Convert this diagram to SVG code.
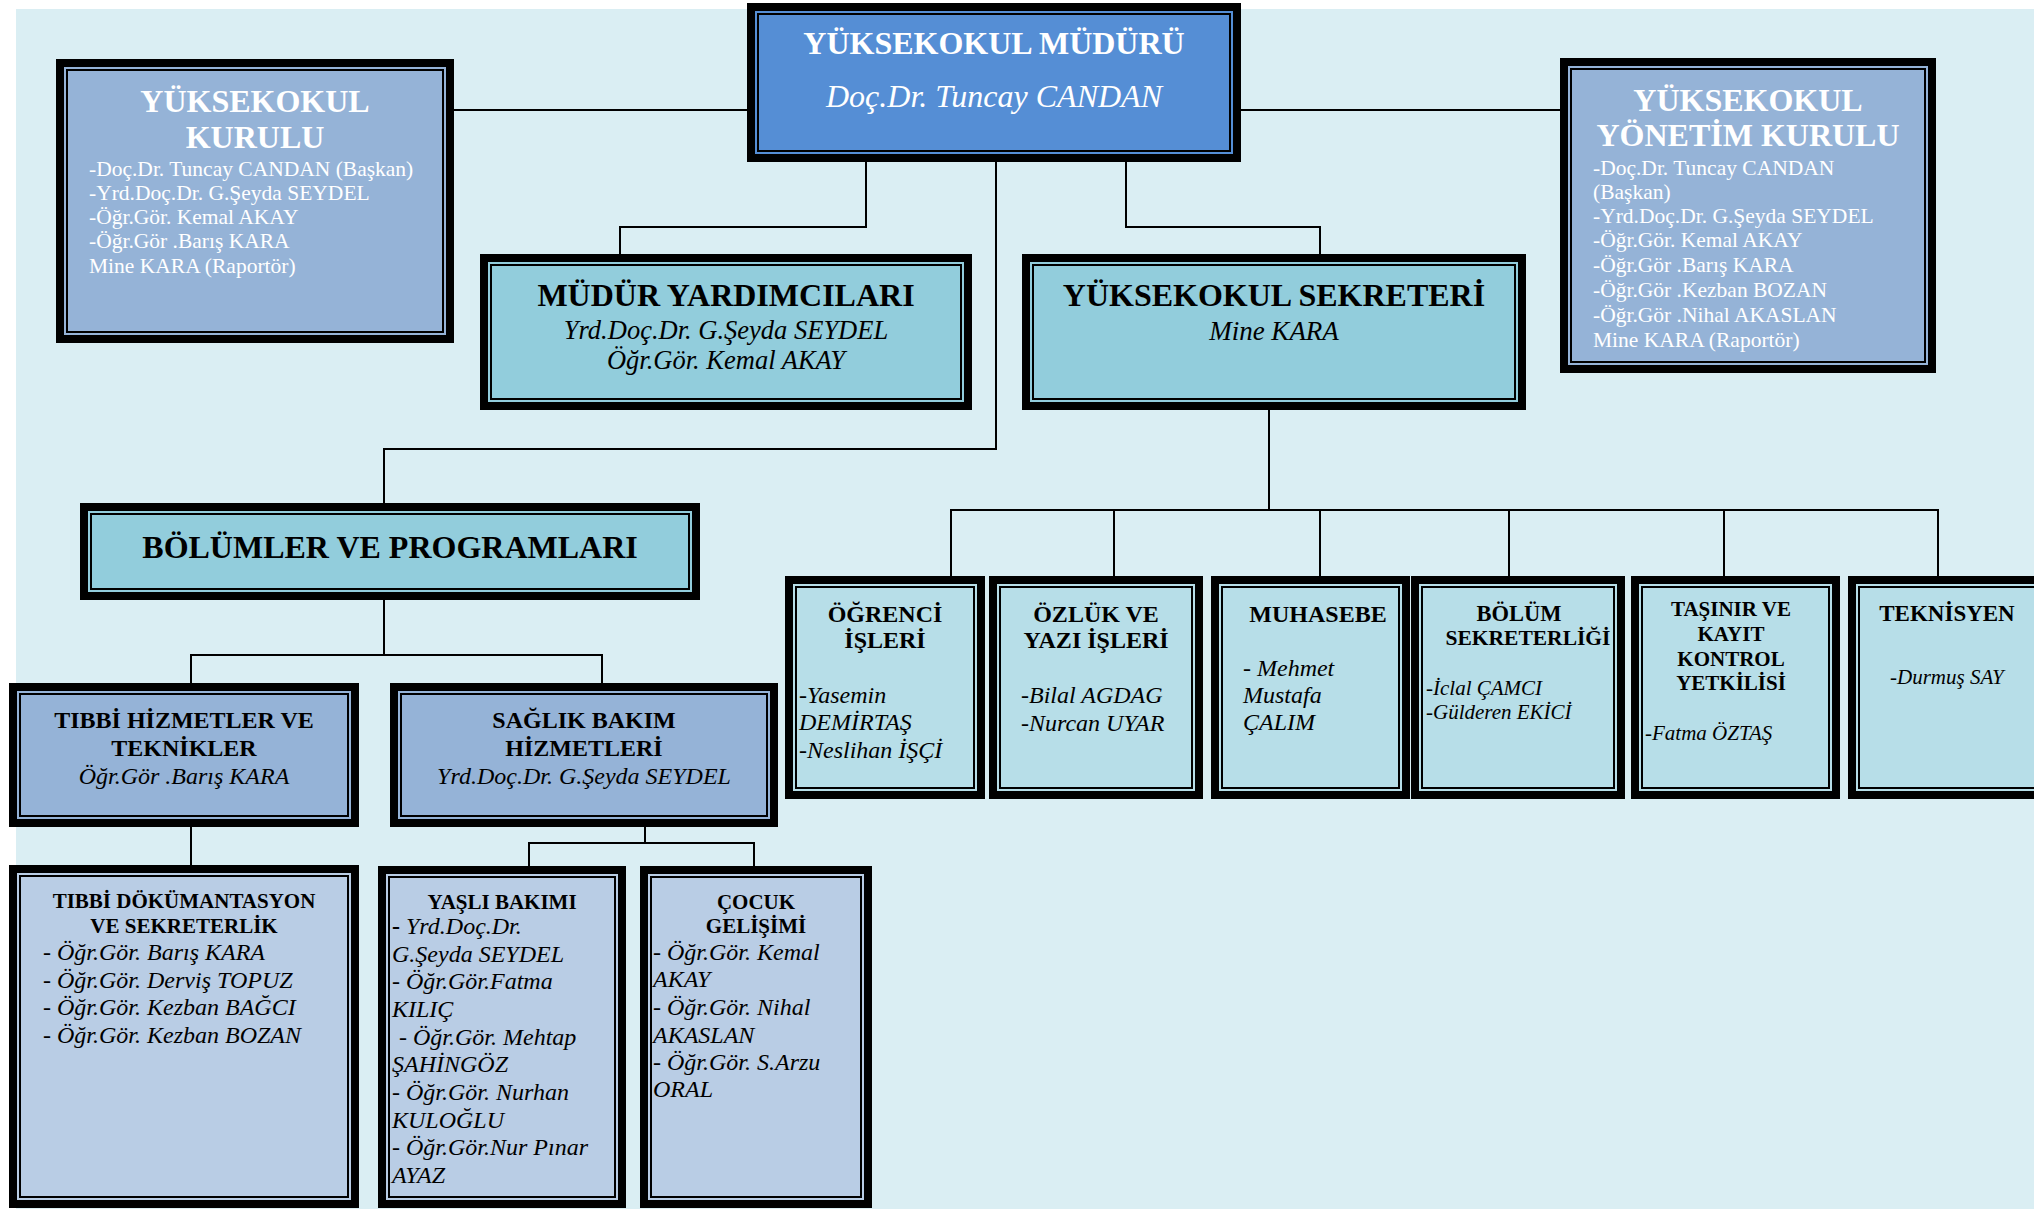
<svg xmlns="http://www.w3.org/2000/svg" width="2034" height="1209" viewBox="0 0 2034 1209">
<style>
.o{stroke:#000;stroke-width:8}
.i{fill:none;stroke:#000;stroke-width:2}
text{font-family:"Liberation Serif","Times New Roman",serif;fill:#000}
.w{fill:#fff}
.b{font-weight:bold}
.it{font-style:italic}
.c{text-anchor:middle}
.conn path{fill:none;stroke:#000;stroke-width:2}
</style>
<rect x="0" y="0" width="2034" height="1209" fill="#fff"/>
<rect x="16" y="9" width="2018" height="1200" fill="#DAEEF3"/>
<g class="conn">
<path d="M454 110 H747"/>
<path d="M1241 110 H1560"/>
<path d="M866 162 V227 H620 V254"/>
<path d="M996 162 V449 H384 V503"/>
<path d="M1126 162 V227 H1320 V254"/>
<path d="M1269 410 V510"/>
<path d="M951 576 V510 H1938 V576"/>
<path d="M1114 510 V576"/>
<path d="M1320 510 V576"/>
<path d="M1509 510 V576"/>
<path d="M1724 510 V576"/>
<path d="M384 600 V655"/>
<path d="M191 683 V655 H602 V683"/>
<path d="M191 827 V865"/>
<path d="M645 827 V843"/>
<path d="M529 866 V843 H754 V866"/>
</g>
<g id="yuksekokul-kurulu">
<rect class="o" x="60" y="63" width="390" height="276" fill="#95B3D7"/>
<rect class="i" x="67" y="70" width="376" height="262"/>
<text class="w b c" x="255" y="112" font-size="32">YÜKSEKOKUL</text>
<text class="w b c" x="255" y="148" font-size="32">KURULU</text>
<g font-size="21.5">
<text class="w" x="89" y="176">-Doç.Dr. Tuncay CANDAN (Başkan)</text>
<text class="w" x="89" y="200">-Yrd.Doç.Dr. G.Şeyda SEYDEL</text>
<text class="w" x="89" y="224">-Öğr.Gör. Kemal AKAY</text>
<text class="w" x="89" y="248">-Öğr.Gör .Barış KARA</text>
<text class="w" x="89" y="273">Mine KARA (Raportör)</text>
</g>
</g>
<g id="mudur">
<rect class="o" x="751" y="7" width="486" height="151" fill="#558ED5"/>
<rect class="i" x="758" y="14" width="472" height="137"/>
<text class="w b c" x="994" y="54" font-size="32">YÜKSEKOKUL MÜDÜRÜ</text>
<text class="w it c" x="994" y="107" font-size="32">Doç.Dr. Tuncay CANDAN</text>
</g>
<g id="yonetim-kurulu">
<rect class="o" x="1564" y="62" width="368" height="307" fill="#95B3D7"/>
<rect class="i" x="1571" y="69" width="354" height="293"/>
<text class="w b c" x="1748" y="111" font-size="32">YÜKSEKOKUL</text>
<text class="w b c" x="1748" y="146" font-size="32">YÖNETİM KURULU</text>
<g font-size="21.5">
<text class="w" x="1593" y="175">-Doç.Dr. Tuncay CANDAN</text>
<text class="w" x="1593" y="199">(Başkan)</text>
<text class="w" x="1593" y="223">-Yrd.Doç.Dr. G.Şeyda SEYDEL</text>
<text class="w" x="1593" y="247">-Öğr.Gör. Kemal AKAY</text>
<text class="w" x="1593" y="272">-Öğr.Gör .Barış KARA</text>
<text class="w" x="1593" y="297">-Öğr.Gör .Kezban BOZAN</text>
<text class="w" x="1593" y="322">-Öğr.Gör .Nihal AKASLAN</text>
<text class="w" x="1593" y="347">Mine KARA (Raportör)</text>
</g>
</g>
<g id="mudur-yardimcilari">
<rect class="o" x="484" y="258" width="484" height="148" fill="#92CDDC"/>
<rect class="i" x="491" y="265" width="470" height="134"/>
<text class="b c" x="726" y="306" font-size="32">MÜDÜR YARDIMCILARI</text>
<text class="it c" x="726" y="339" font-size="26.5">Yrd.Doç.Dr. G.Şeyda SEYDEL</text>
<text class="it c" x="726" y="369" font-size="26.5">Öğr.Gör. Kemal AKAY</text>
</g>
<g id="sekreter">
<rect class="o" x="1026" y="258" width="496" height="148" fill="#92CDDC"/>
<rect class="i" x="1033" y="265" width="482" height="134"/>
<text class="b c" x="1274" y="306" font-size="32">YÜKSEKOKUL SEKRETERİ</text>
<text class="it c" x="1274" y="340" font-size="27">Mine KARA</text>
</g>
<g id="bolumler">
<rect class="o" x="84" y="507" width="612" height="89" fill="#92CDDC"/>
<rect class="i" x="91" y="514" width="598" height="75"/>
<text class="b c" x="390" y="558" font-size="32">BÖLÜMLER VE PROGRAMLARI</text>
</g>
<g id="ogrenci-isleri">
<rect class="o" x="789" y="580" width="192" height="215" fill="#B7DEE8"/>
<rect class="i" x="796" y="587" width="178" height="201"/>
<text class="b c" x="885" y="622" font-size="24">ÖĞRENCİ</text>
<text class="b c" x="885" y="648" font-size="24">İŞLERİ</text>
<text class="it" x="799" y="703" font-size="24">-Yasemin</text>
<text class="it" x="799" y="730" font-size="24">DEMİRTAŞ</text>
<text class="it" x="799" y="758" font-size="24">-Neslihan İŞÇİ</text>
</g>
<g id="ozluk">
<rect class="o" x="993" y="580" width="206" height="215" fill="#B7DEE8"/>
<rect class="i" x="1000" y="587" width="192" height="201"/>
<text class="b c" x="1096" y="622" font-size="24">ÖZLÜK VE</text>
<text class="b c" x="1096" y="648" font-size="24">YAZI İŞLERİ</text>
<text class="it" x="1021" y="703" font-size="24">-Bilal AGDAG</text>
<text class="it" x="1021" y="731" font-size="24">-Nurcan UYAR</text>
</g>
<g id="muhasebe">
<rect class="o" x="1215" y="580" width="191" height="215" fill="#B7DEE8"/>
<rect class="i" x="1222" y="587" width="177" height="201"/>
<text class="b c" x="1318" y="622" font-size="24">MUHASEBE</text>
<text class="it" x="1243" y="676" font-size="24">- Mehmet</text>
<text class="it" x="1243" y="703" font-size="24">Mustafa</text>
<text class="it" x="1243" y="730" font-size="24">ÇALIM</text>
</g>
<g id="bolum-sekreterligi">
<rect class="o" x="1415" y="580" width="206" height="215" fill="#B7DEE8"/>
<rect class="i" x="1422" y="587" width="192" height="201"/>
<text class="b c" x="1519" y="621" font-size="22.5">BÖLÜM</text>
<text class="b c" x="1528" y="645" font-size="21.5">SEKRETERLİĞİ</text>
<text class="it" x="1426" y="695" font-size="21">-İclal ÇAMCI</text>
<text class="it" x="1426" y="719" font-size="21">-Gülderen EKİCİ</text>
</g>
<g id="tasinir">
<rect class="o" x="1635" y="580" width="201" height="215" fill="#B7DEE8"/>
<rect class="i" x="1642" y="587" width="187" height="201"/>
<text class="b c" x="1731" y="616" font-size="21">TAŞINIR VE</text>
<text class="b c" x="1731" y="641" font-size="21">KAYIT</text>
<text class="b c" x="1731" y="666" font-size="21">KONTROL</text>
<text class="b c" x="1731" y="690" font-size="21">YETKİLİSİ</text>
<text class="it" x="1645" y="740" font-size="21">-Fatma ÖZTAŞ</text>
</g>
<g id="teknisyen">
<rect class="o" x="1852" y="580" width="202" height="215" fill="#B7DEE8"/>
<rect class="i" x="1859" y="587" width="188" height="201"/>
<text class="b c" x="1947" y="621" font-size="23">TEKNİSYEN</text>
<text class="it" x="1890" y="684" font-size="21">-Durmuş SAY</text>
</g>
<g id="tibbi-hizmetler">
<rect class="o" x="13" y="687" width="342" height="136" fill="#95B3D7"/>
<rect class="i" x="20" y="694" width="328" height="122"/>
<text class="b c" x="184" y="728" font-size="24">TIBBİ HİZMETLER VE</text>
<text class="b c" x="184" y="756" font-size="24">TEKNİKLER</text>
<text class="it c" x="184" y="784" font-size="24">Öğr.Gör .Barış KARA</text>
</g>
<g id="saglik-bakim">
<rect class="o" x="394" y="687" width="380" height="136" fill="#95B3D7"/>
<rect class="i" x="401" y="694" width="366" height="122"/>
<text class="b c" x="584" y="728" font-size="24">SAĞLIK BAKIM</text>
<text class="b c" x="584" y="756" font-size="24">HİZMETLERİ</text>
<text class="it c" x="584" y="784" font-size="24">Yrd.Doç.Dr. G.Şeyda SEYDEL</text>
</g>
<g id="tibbi-dokumantasyon">
<rect class="o" x="13" y="869" width="342" height="335" fill="#B9CDE5"/>
<rect class="i" x="20" y="876" width="328" height="321"/>
<text class="b c" x="184" y="908" font-size="21">TIBBİ DÖKÜMANTASYON</text>
<text class="b c" x="184" y="933" font-size="21">VE SEKRETERLİK</text>
<text class="it" x="43" y="960" font-size="24">- Öğr.Gör. Barış KARA</text>
<text class="it" x="43" y="988" font-size="24">- Öğr.Gör. Derviş TOPUZ</text>
<text class="it" x="43" y="1015" font-size="24">- Öğr.Gör. Kezban BAĞCI</text>
<text class="it" x="43" y="1043" font-size="24">- Öğr.Gör. Kezban BOZAN</text>
</g>
<g id="yasli-bakimi">
<rect class="o" x="382" y="870" width="240" height="334" fill="#B9CDE5"/>
<rect class="i" x="389" y="877" width="226" height="320"/>
<text class="b c" x="502" y="909" font-size="21">YAŞLI BAKIMI</text>
<g font-size="24">
<text class="it" x="392" y="934"><tspan font-style="normal" font-weight="bold">-</tspan> Yrd.Doç.Dr.</text>
<text class="it" x="392" y="962">G.Şeyda SEYDEL</text>
<text class="it" x="392" y="989">- Öğr.Gör.Fatma</text>
<text class="it" x="392" y="1017">KILIÇ</text>
<text class="it" x="399" y="1045">- Öğr.Gör. Mehtap</text>
<text class="it" x="392" y="1072">ŞAHİNGÖZ</text>
<text class="it" x="392" y="1100">- Öğr.Gör. Nurhan</text>
<text class="it" x="392" y="1128">KULOĞLU</text>
<text class="it" x="392" y="1155">- Öğr.Gör.Nur Pınar</text>
<text class="it" x="392" y="1183">AYAZ</text>
</g>
</g>
<g id="cocuk-gelisimi">
<rect class="o" x="644" y="870" width="224" height="334" fill="#B9CDE5"/>
<rect class="i" x="651" y="877" width="210" height="320"/>
<text class="b c" x="756" y="909" font-size="21">ÇOCUK</text>
<text class="b c" x="756" y="933" font-size="21">GELİŞİMİ</text>
<g font-size="24">
<text class="it" x="653" y="960">- Öğr.Gör. Kemal</text>
<text class="it" x="653" y="987">AKAY</text>
<text class="it" x="653" y="1015">- Öğr.Gör. Nihal</text>
<text class="it" x="653" y="1043">AKASLAN</text>
<text class="it" x="653" y="1070">- Öğr.Gör. S.Arzu</text>
<text class="it" x="653" y="1097">ORAL</text>
</g>
</g>
</svg>
